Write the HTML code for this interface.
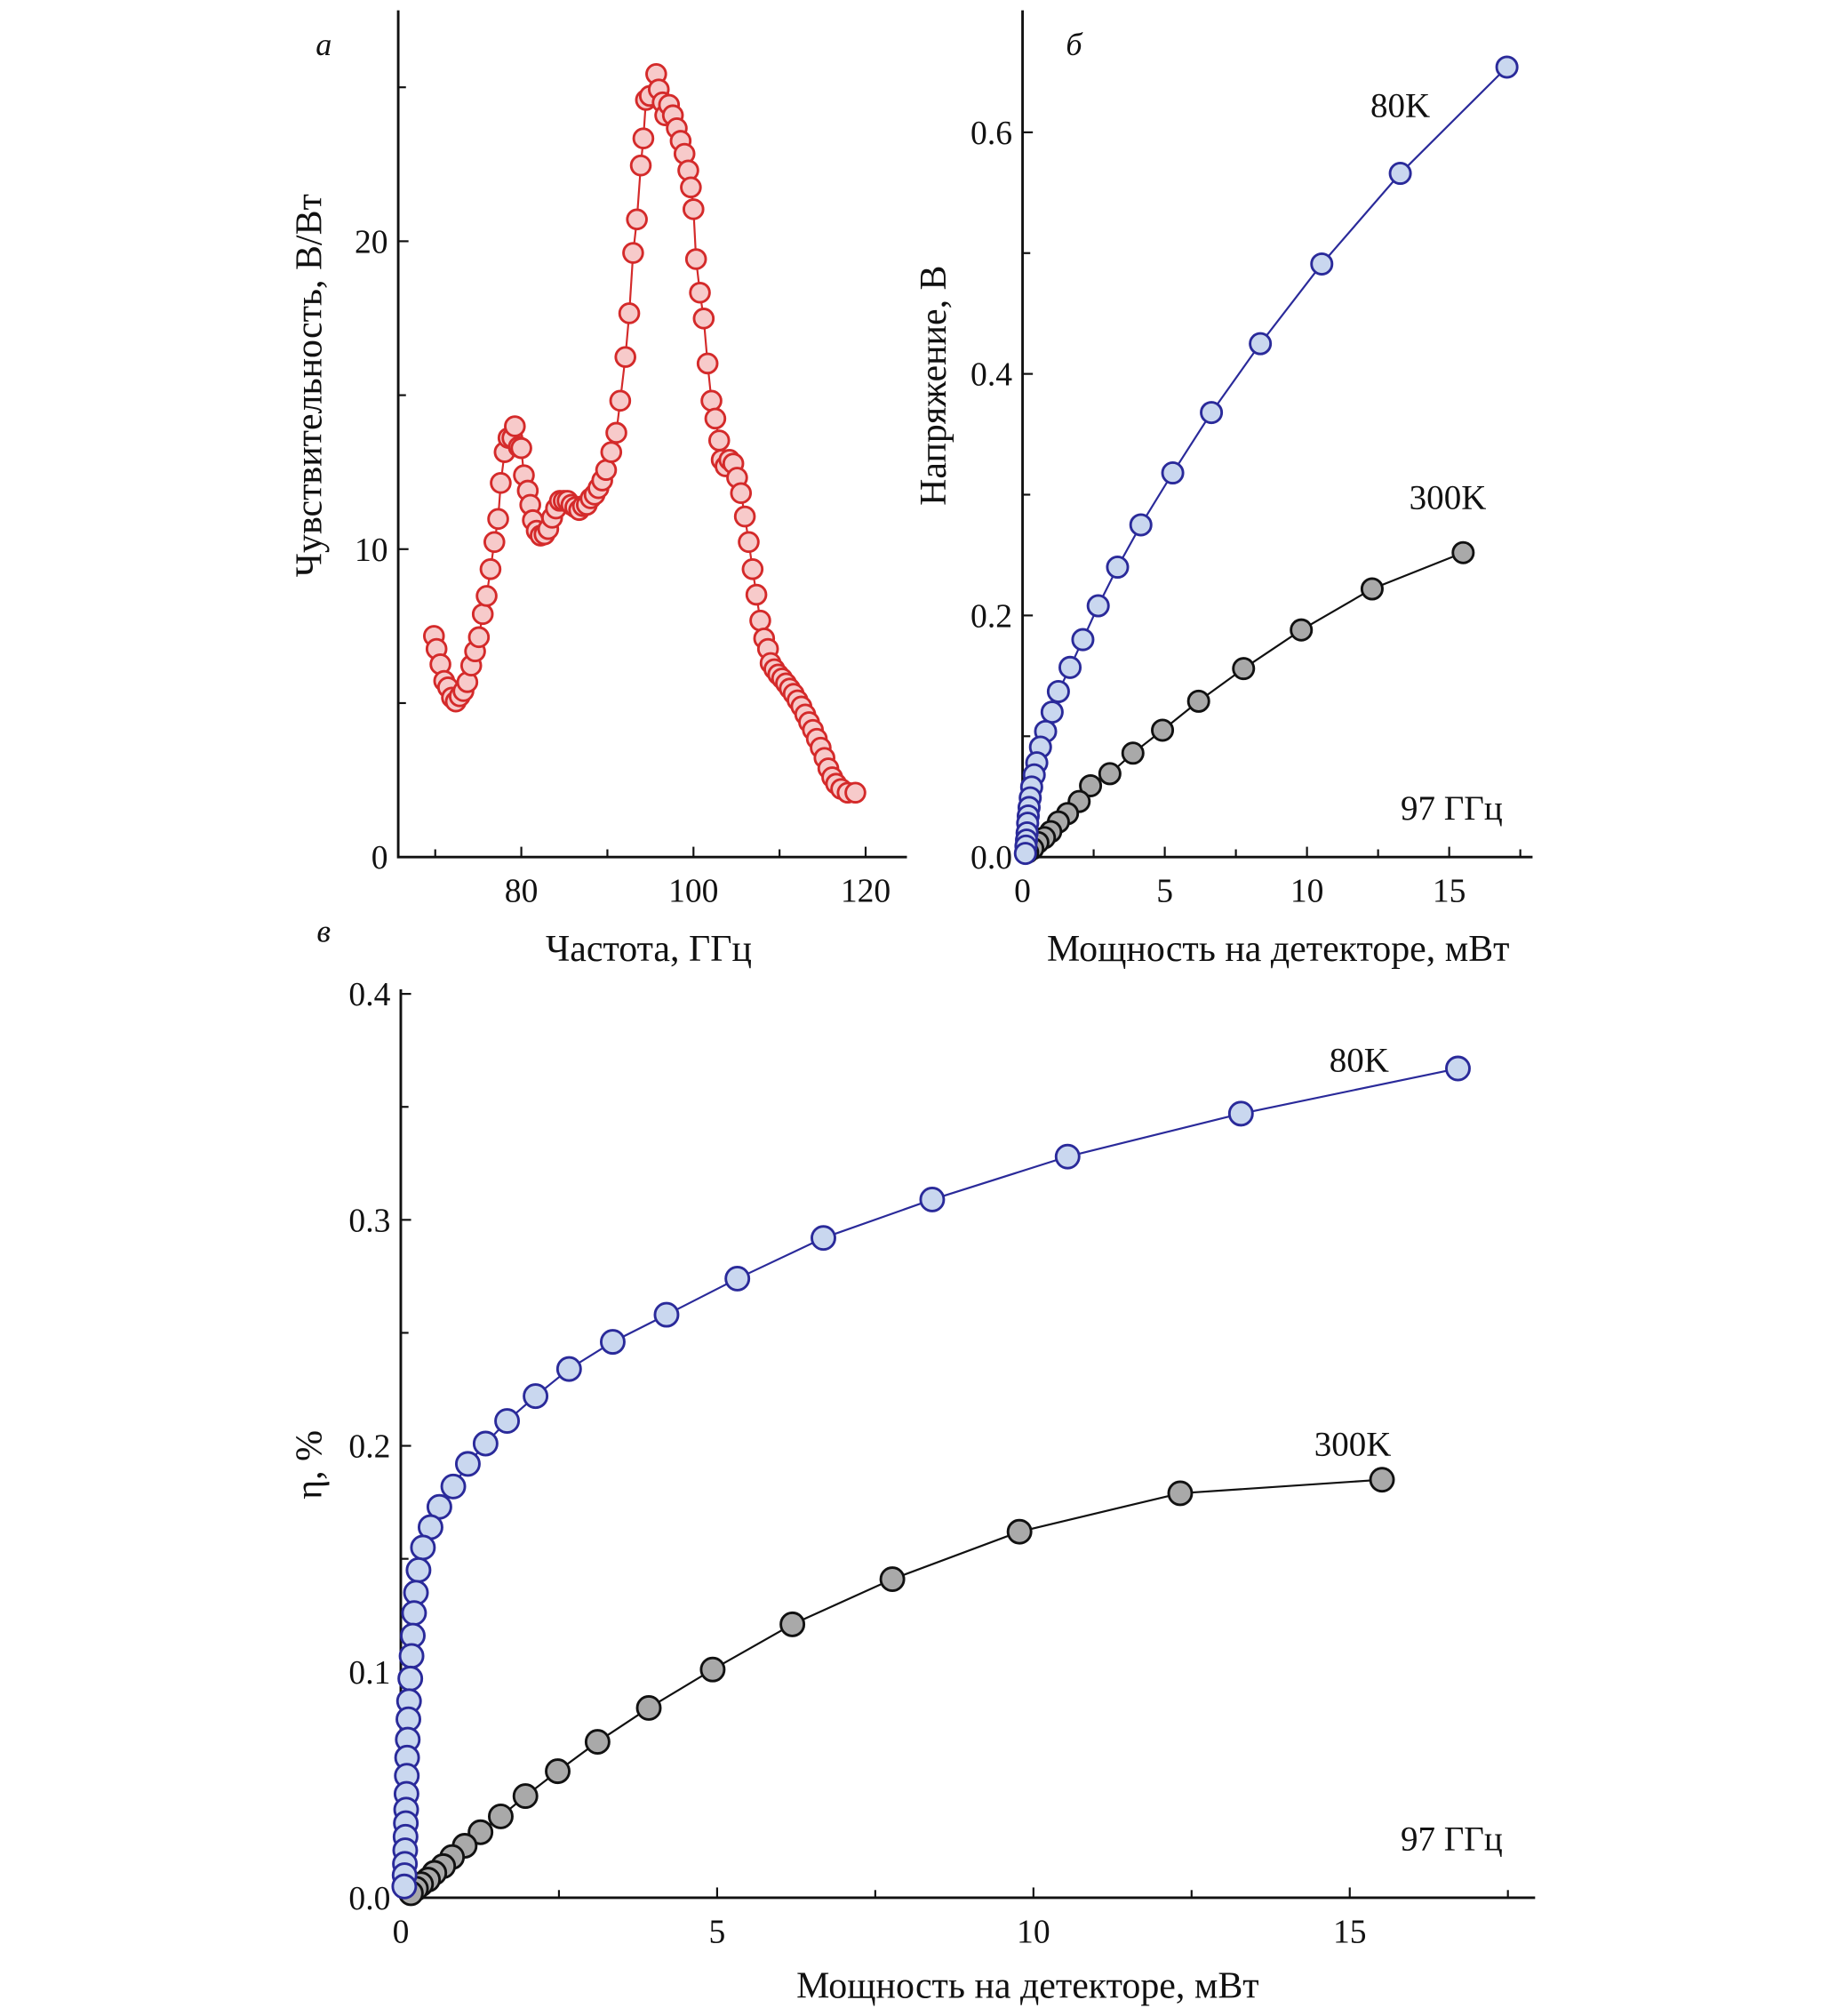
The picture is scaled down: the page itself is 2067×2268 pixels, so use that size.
<!DOCTYPE html>
<html><head><meta charset="utf-8"><style>
html,body{margin:0;padding:0;background:#fff}
svg{display:block}
text{font-family:"Liberation Serif",serif;fill:#111}
</style></head><body>
<svg id="chart" width="2067" height="2268" viewBox="0 0 1430 1569" xmlns="http://www.w3.org/2000/svg"></svg>
<script>
// Panel a data
const freqA=[69.85,70.15,70.6,71.04,71.49,71.94,72.39,72.84,73.28,73.73,74.18,74.63,75.07,75.52,75.97,76.42,76.87,77.31,77.61,78.06,78.51,78.96,79.25,79.7,80,80.3,80.75,81.04,81.34,81.79,82.24,82.69,83.13,83.58,84.03,84.48,84.93,85.37,85.82,86.27,86.72,87.16,87.61,88.06,88.51,88.96,89.4,89.85,90.45,91.04,91.49,92.09,92.54,92.99,93.43,93.88,94.18,94.48,94.93,95.67,95.97,96.42,96.72,97.16,97.61,98.06,98.51,98.96,99.4,99.7,100,100.3,100.75,101.19,101.64,102.09,102.54,102.99,103.28,103.73,104.18,104.63,105.07,105.52,105.97,106.42,106.87,107.31,107.76,108.21,108.66,108.96,109.4,109.85,110.3,110.75,111.19,111.64,112.09,112.54,112.99,113.43,113.88,114.33,114.78,115.22,115.67,116.12,116.57,117.16,117.91,118.81];
const sensA=[7.18,6.76,6.26,5.72,5.51,5.18,5.05,5.22,5.39,5.68,6.22,6.68,7.14,7.89,8.48,9.35,10.23,10.98,12.15,13.15,13.61,13.61,13.99,13.32,13.28,12.4,11.9,11.44,10.94,10.6,10.44,10.48,10.65,11.02,11.32,11.57,11.57,11.57,11.44,11.36,11.27,11.4,11.44,11.65,11.77,11.98,12.23,12.57,13.15,13.78,14.82,16.24,17.66,19.62,20.71,22.46,23.34,24.59,24.72,25.43,24.93,24.51,24.09,24.43,24.09,23.67,23.26,22.84,22.3,21.75,21.04,19.42,18.33,17.49,16.03,14.82,14.24,13.53,12.9,12.69,12.9,12.78,12.32,11.82,11.06,10.23,9.35,8.52,7.68,7.1,6.76,6.3,6.1,5.93,5.8,5.64,5.47,5.3,5.09,4.89,4.63,4.38,4.13,3.84,3.55,3.22,2.88,2.59,2.38,2.21,2.09,2.09];
// Panel b data
const powB80=[17.03,13.28,10.52,8.36,6.64,5.28,4.16,3.34,2.66,2.12,1.67,1.26,1.04,0.81,0.63,0.50,0.41,0.32,0.27,0.23,0.20,0.18,0.16,0.14,0.12,0.10];
const voltB80=[0.654,0.566,0.491,0.425,0.368,0.318,0.275,0.240,0.208,0.180,0.157,0.137,0.120,0.104,0.091,0.078,0.068,0.058,0.049,0.041,0.034,0.028,0.020,0.014,0.009,0.003];
const powB300=[15.49,12.29,9.8,7.77,6.19,4.92,3.88,3.07,2.39,1.99,1.58,1.26,0.99,0.77,0.54,0.36,0.18];
const voltB300=[0.252,0.222,0.188,0.156,0.129,0.105,0.086,0.069,0.059,0.046,0.036,0.029,0.021,0.016,0.012,0.007,0.004];
// Panel c data
const powC80=[16.71,13.28,10.54,8.40,6.68,5.32,4.20,3.35,2.66,2.13,1.68,1.34,1.06,0.83,0.61,0.47,0.35,0.28,0.24,0.21,0.19,0.17,0.15,0.13,0.12,0.11,0.10,0.095,0.09,0.085,0.08,0.075,0.07,0.065,0.06,0.055];
const etaC80=[0.367,0.347,0.328,0.309,0.292,0.274,0.258,0.246,0.234,0.222,0.211,0.201,0.192,0.182,0.173,0.164,0.155,0.145,0.135,0.126,0.116,0.107,0.097,0.087,0.079,0.070,0.062,0.054,0.046,0.039,0.033,0.027,0.021,0.015,0.010,0.005];
const powC300=[15.51,12.32,9.78,7.77,6.19,4.93,3.92,3.11,2.48,1.97,1.58,1.26,1.01,0.81,0.67,0.53,0.43,0.32,0.24,0.16];
const etaC300=[0.185,0.179,0.162,0.141,0.121,0.101,0.084,0.069,0.056,0.045,0.036,0.029,0.023,0.018,0.014,0.011,0.008,0.006,0.004,0.002];
const ticksAx=[80,100,120], ticksAy=[0,10,20];
const ticksBx=[0,5,10,15], ticksBy=[0.0,0.2,0.4,0.6];
const ticksCx=[0,5,10,15], ticksCy=[0.0,0.1,0.2,0.3,0.4];

const NS="http://www.w3.org/2000/svg";
const svg=document.getElementById('chart');
function mk(tag,attrs,parent){const e=document.createElementNS(NS,tag);for(const k in attrs)e.setAttribute(k,attrs[k]);(parent||svg).appendChild(e);return e;}
function txt(s,x,y,size,anchor,parent,extra){const t=mk('text',Object.assign({x:x,y:y,'font-size':size,'text-anchor':anchor||'middle'},extra||{}),parent);t.textContent=s;return t;}

function panel(name,box,dom,xt,xminor,yt,yminor,fmtY,fmtX){
  const g=mk('g',{});
  
  
  const sx=v=>box.x0+(v-dom.x0)/(dom.x1-dom.x0)*(box.x1-box.x0);
  const sy=v=>box.y0-(v-dom.y0)/(dom.y1-dom.y0)*(box.y0-box.y1);
  const ax=mk('path',{d:`M${box.x0},${box.y1}V${box.y0}H${box.x1}`,fill:'none',stroke:'#111','stroke-width':2},g);
  
  
  xt.forEach(v=>{mk('line',{x1:sx(v),x2:sx(v),y1:box.y0,y2:box.y0-8,stroke:'#111','stroke-width':1.5},g);
    const t=txt(fmtX(v),sx(v),box.y0+35,26,'middle',g);
    
    });
  xminor.forEach(v=>mk('line',{x1:sx(v),x2:sx(v),y1:box.y0,y2:box.y0-6,stroke:'#111','stroke-width':1.5},g));
  yt.forEach(v=>{mk('line',{x1:box.x0,x2:box.x0+8,y1:sy(v),y2:sy(v),stroke:'#111','stroke-width':1.5},g);
    const t=txt(fmtY(v),box.x0-8,sy(v)+9,26,'end',g);
    
    });
  yminor.forEach(v=>mk('line',{x1:box.x0,x2:box.x0+6,y1:sy(v),y2:sy(v),stroke:'#111','stroke-width':1.5},g));
  return {g,sx,sy};
}
function series(p,name,xs,ys,r,fill,stroke,lineCol){
  const g=mk('g',{},p.g);
  
  
  const d=xs.map((x,i)=>(i?'L':'M')+p.sx(x).toFixed(2)+','+p.sy(ys[i]).toFixed(2)).join('');
  mk('path',{d:d,fill:'none',stroke:lineCol,'stroke-width':1.5},g);
  xs.forEach((x,i)=>{const c=mk('circle',{cx:p.sx(x),cy:p.sy(ys[i]),r:r,fill:fill,stroke:stroke,'stroke-width':2},g);
    
    });
}

const pa=panel('panel-a',{x0:310,x1:706,y0:667,y1:8},{x0:65.7,x1:124.8,y0:0,y1:27.5},ticksAx,[70,90,110],ticksAy,[5,15,25],v=>String(v),v=>String(v));
series(pa,'sensitivity-series',freqA,sensA,7.5,'#f7caca','#d42a2a','#d42a2a');
const pb=panel('panel-b',{x0:796,x1:1193,y0:667,y1:8},{x0:0,x1:17.93,y0:0,y1:0.701},ticksBx,[2.5,7.5,12.5,17.5],ticksBy,[0.1,0.3,0.5],v=>v.toFixed(1),v=>String(v));
series(pb,'voltage-300k-series',powB300,voltB300,8,'#a9a9a9','#111','#111');
series(pb,'voltage-80k-series',powB80,voltB80,8,'#c9d7ef','#2a2a9a','#2a2a9a');
const pc=panel('panel-c',{x0:312,x1:1195,y0:1477,y1:770},{x0:0,x1:17.93,y0:0,y1:0.402},ticksCx,[2.5,7.5,12.5,17.5],ticksCy,[0.05,0.15,0.25,0.35],v=>v.toFixed(1),v=>String(v));
series(pc,'efficiency-300k-series',powC300,etaC300,9,'#a9a9a9','#111','#111');
series(pc,'efficiency-80k-series',powC80,etaC80,9,'#c9d7ef','#2a2a9a','#2a2a9a');
</script>
<script>
(function(){
const svg=document.getElementById('chart');
const NS="http://www.w3.org/2000/svg";
function L(name,s,x,y,size,anchor,rot,italic){
  const t=document.createElementNS(NS,'text');
  t.setAttribute('x',x);t.setAttribute('y',y);t.setAttribute('font-size',size);
  t.setAttribute('text-anchor',anchor);
  if(rot)t.setAttribute('transform',`rotate(-90 ${x} ${y})`);
  if(italic)t.setAttribute('font-style','italic');
  t.textContent=s;
  
  
  svg.appendChild(t);
}
L('panel-a-letter','а',252,43,25,'middle',false,true);
L('panel-b-letter','б',836,43,25,'middle',false,true);
L('panel-c-letter','в',252,733,25,'middle',false,true);
L('panel-a-y-axis-title','Чувствительность, В/Вт',250,300,29,'middle',true);
L('panel-a-x-axis-title','Частота, ГГц',505,748,29,'middle');
L('panel-b-y-axis-title','Напряжение, В',736,300,29,'middle',true);
L('panel-b-x-axis-title','Мощность на детекторе, мВт',995,748,29,'middle');
L('panel-c-y-axis-title','η, %',250,1140,29,'middle',true);
L('panel-c-x-axis-title','Мощность на детекторе, мВт',800,1555,29,'middle');
L('panel-b-label-80k','80K',1090,91,27,'middle');
L('panel-b-label-300k','300K',1127,396,27,'middle');
L('panel-b-label-97ghz','97 ГГц',1130,638,27,'middle');
L('panel-c-label-80k','80K',1058,834,27,'middle');
L('panel-c-label-300k','300K',1053,1133,27,'middle');
L('panel-c-label-97ghz','97 ГГц',1130,1440,27,'middle');
})();
</script>
</body></html>
